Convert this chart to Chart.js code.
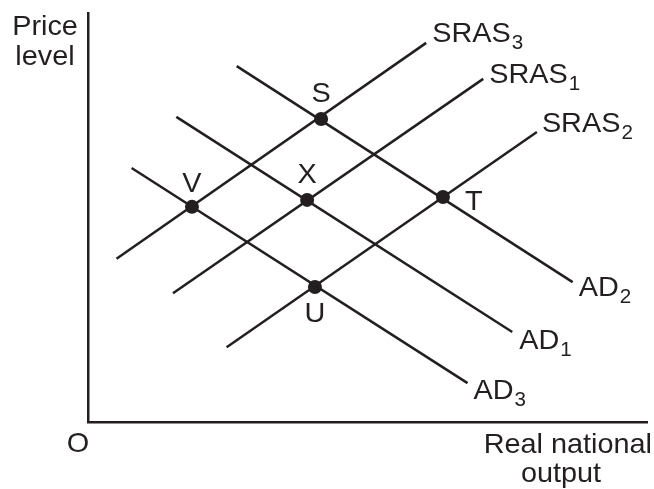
<!DOCTYPE html>
<html>
<head>
<meta charset="utf-8">
<script src="https://cdn.jsdelivr.net/npm/chart.js@4/dist/chart.umd.min.js"></script>
<style>
  html, body { margin: 0; padding: 0; background: #fff; }
  #wrap { width: 654px; height: 489px; }
</style>
</head>
<body>
<div id="wrap"><canvas id="adas"></canvas></div>
<script>
// AD/AS shifts: three SRAS curves and three AD curves, output 0-100, price 0-100
var curveNames = ["SRAS", "SRAS", "SRAS", "AD", "AD", "AD"];
var curveSubs = ["3", "1", "2", "2", "1", "3"];
var curveStartOutput = [5.1, 15.2, 24.8, 26.6, 15.8, 7.8];
var curveStartPrice = [39.9, 31.5, 18.3, 87.0, 74.6, 62.1];
var curveEndOutput = [60.5, 70.7, 80.3, 86.7, 75.9, 67.9];
var curveEndPrice = [92.7, 83.9, 70.9, 34.2, 22.0, 9.5];

var pointNames = ["S", "X", "V", "T", "U"];
var pointOutput = [41.7, 39.2, 18.6, 63.5, 40.6];
var pointPrice = [74.1, 54.3, 52.6, 55.0, 33.0];

(function () {
  "use strict";

  var ink = "#231f20";
  var font = "Liberation Sans, Arial, sans-serif";
  var size = 28;
  var subSize = 20;
  var stretch = 1.03; // source art is a touch wider than the face

  // pixel nudges for labels, relative to the curve end / point
  var curveLabelOffset = [[6, -1], [6, 4], [5, 0], [6, 14], [7, 17], [6, 16]];
  var pointLabelOffset = {
    S: [0, -17, "center"], X: [0, -17, "center"], V: [0, -15, "center"],
    T: [22, 13, "left"], U: [0, 35, "center"],
  };

  function text(ctx, str, x, y, px, align) {
    ctx.save();
    ctx.translate(x, y);
    ctx.scale(stretch, 1);
    ctx.font = px + "px " + font;
    ctx.textAlign = align || "left";
    ctx.textBaseline = "alphabetic";
    ctx.fillStyle = ink;
    ctx.fillText(str, 0, 0);
    ctx.restore();
  }

  function textWithSub(ctx, main, sub, x, y) {
    text(ctx, main, x, y, size, "left");
    ctx.save();
    ctx.font = size + "px " + font;
    var w = ctx.measureText(main).width * stretch;
    ctx.restore();
    text(ctx, sub, x + w + 1, y + 7, subSize, "left");
  }

  var labels = {
    id: "labels",
    afterDatasetsDraw: function (chart) {
      var ctx = chart.ctx;
      var xs = chart.scales.x, ys = chart.scales.y;
      curveNames.forEach(function (name, i) {
        var px = xs.getPixelForValue(curveEndOutput[i]);
        var py = ys.getPixelForValue(curveEndPrice[i]);
        var off = curveLabelOffset[i];
        textWithSub(ctx, name, curveSubs[i], px + off[0], py + off[1]);
      });
      pointNames.forEach(function (name, i) {
        var px = xs.getPixelForValue(pointOutput[i]);
        var py = ys.getPixelForValue(pointPrice[i]);
        var off = pointLabelOffset[name];
        text(ctx, name, px + off[0], py + off[1], size, off[2]);
      });
      // axis titles
      var a = chart.chartArea;
      text(ctx, "Price", a.left - 43, 35, size, "center");
      text(ctx, "level", a.left - 43, 65, size, "center");
      text(ctx, "O", a.left - 10, 452, size, "center");
      text(ctx, "Real national", 652, 453, size, "right");
      text(ctx, "output", 561, 482, size, "center");
    },
  };

  var datasets = curveNames.map(function (name, i) {
    return {
      type: "line",
      label: name + curveSubs[i],
      data: [
        { x: curveStartOutput[i], y: curveStartPrice[i] },
        { x: curveEndOutput[i], y: curveEndPrice[i] },
      ],
      borderColor: ink,
      borderWidth: 2.5,
      pointRadius: 0,
      fill: false,
    };
  });
  datasets.push({
    type: "scatter",
    label: "equilibria",
    data: pointNames.map(function (n, i) { return { x: pointOutput[i], y: pointPrice[i] }; }),
    backgroundColor: ink,
    borderColor: ink,
    pointRadius: 7,
    pointBorderWidth: 0,
  });

  function axis(extra) {
    var s = {
      type: "linear",
      min: 0,
      max: 100,
      grid: { display: false, drawTicks: false },
      border: { display: true, color: ink, width: 2.5 },
      ticks: { display: false },
    };
    return Object.assign(s, extra);
  }

  new Chart(document.getElementById("adas"), {
    type: "line",
    data: { datasets: datasets },
    options: {
      responsive: true,
      maintainAspectRatio: false,
      animation: false,
      layout: { padding: { left: 88, right: -3, top: 13, bottom: 67 } },
      plugins: { legend: { display: false }, tooltip: { enabled: false } },
      scales: { x: axis({ position: "bottom" }), y: axis({ position: "left" }) },
    },
    plugins: [labels],
  });
})();
</script>
</body>
</html>
